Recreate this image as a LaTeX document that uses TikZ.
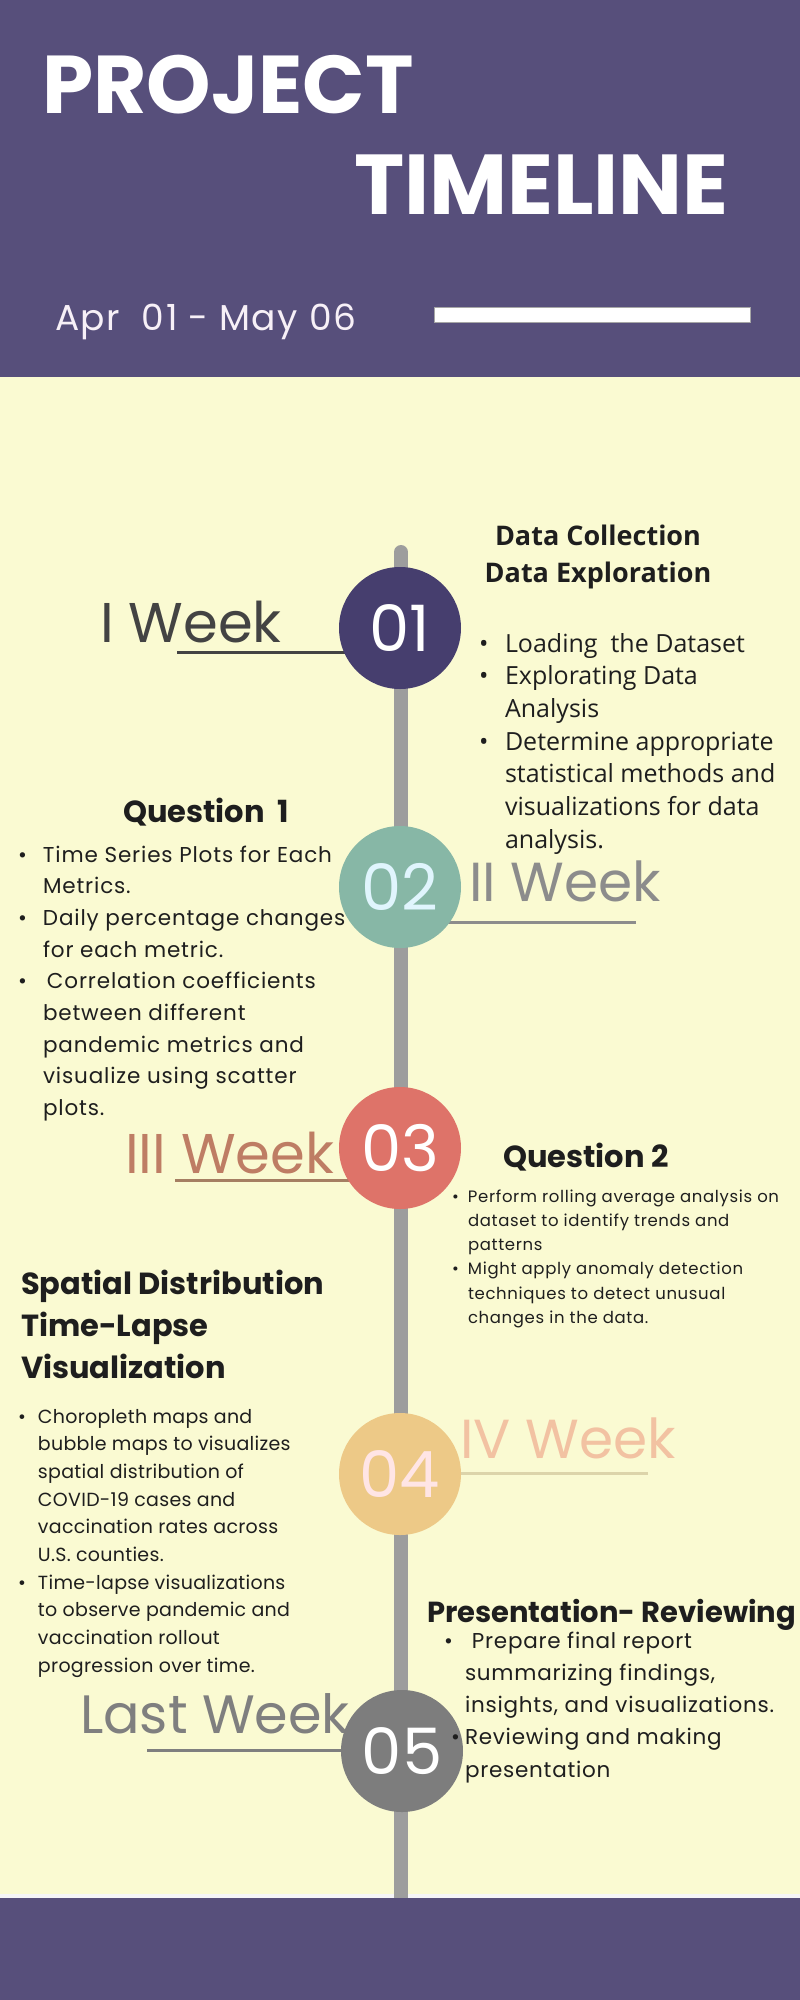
\documentclass[tikz,border=0pt]{standalone}
\usepackage{fontspec}
\setmainfont{Poppins}
\newfontfamily\opensans{Open Sans}

\definecolor{hdr}{HTML}{574F7B}
\definecolor{cream}{HTML}{FAFAD2}
\definecolor{spine}{HTML}{9D9D9D}
\definecolor{cOne}{HTML}{463E6E}
\definecolor{cTwo}{HTML}{87B7A6}
\definecolor{cThree}{HTML}{DE7369}
\definecolor{cFour}{HTML}{EDC987}
\definecolor{cFive}{HTML}{7D7D7D}
\definecolor{ink}{HTML}{1E1E1E}
\definecolor{wkOne}{HTML}{434343}
\definecolor{wkTwo}{HTML}{8C8C8C}
\definecolor{wkThree}{HTML}{BE7D64}
\definecolor{wkFour}{HTML}{F2C2A2}
\definecolor{wkFive}{HTML}{7F7F7F}
\definecolor{ulThree}{HTML}{A57E62}
\definecolor{ulFour}{HTML}{DCD4AA}

\newcommand\fsz[2]{\fontsize{#1}{#2}\selectfont}
\newcommand\bul[1]{\makebox[#1][l]{\textbullet}}
\newcommand\lead[1]{\rule{0pt}{#1}}
\newcommand\spaced[1]{\addfontfeature{LetterSpace=#1}}

\tikzset{
  blk/.style={anchor=north west, inner sep=0pt, outer sep=0pt, align=left, text=ink},
  head/.style={anchor=base west, inner sep=0pt, outer sep=0pt, text=ink, font=\bfseries\fsz{30.5}{42}},
  wk/.style={anchor=base west, inner sep=0pt, outer sep=0pt},
  circ/.style={circle, minimum size=122pt, inner sep=0pt, font=\fsz{64}{64}},
  ul/.style={line width=3pt},
}

\begin{document}
\begin{tikzpicture}[x=1pt, y=-1pt]
\useasboundingbox (0,0) rectangle (800,2000);

% background bands
\fill[hdr] (0,0) rectangle (800,377);
\fill[cream] (0,377) rectangle (800,1894);
\fill[white!94!hdr] (0,1894) rectangle (800,1898);

% title
\node[wk, text=white, font=\bfseries\fsz{82}{82}] (ttlA) at (42,113) {PROJECT};
\node[wk, text=white, font=\bfseries\fsz{85}{85}] (ttlB) at (354,214) {TIMELINE};
\node[wk, text=white!94!violet, font=\fsz{36}{36}\spaced{4}] (dates) at (55,330) {Apr\ \ 01 - May 06};
\fill[white, draw=gray!70, line width=0.8pt] (434,307) rectangle (750,322);

% spine
\coordinate (top) at (401,552);
\coordinate (bot) at (401,1897);
\draw[spine, line width=14pt, line cap=round] (top) -- (bot);

% week labels and their underlines
\node[wk, text=wkOne, font=\fsz{56}{56}] (lOne) at (100,642) {I Week};
\node[wk, text=wkTwo, font=\fsz{55}{55}] (lTwo) at (469,901) {II Week};
\node[wk, text=wkThree, font=\fsz{56}{56}] (lThree) at (125,1173) {III Week};
\node[wk, text=wkFour, font=\fsz{55}{55}] (lFour) at (460,1458) {IV Week};
\node[wk, text=wkFive, font=\fsz{54}{54}] (lFive) at (80,1733) {Last Week};

\coordinate (uOne) at (177,652);
\coordinate (uTwo) at (636,922);
\coordinate (uThree) at (175,1180);
\coordinate (uFour) at (648,1473);
\coordinate (uFive) at (147,1750);

% underlines run into the circles
\begin{scope}[ul]
\draw[wkOne] (uOne) -- (400,652);
\draw[wkTwo] (uTwo) -- (400,922);
\draw[ulThree] (uThree) -- (400,1180);
\draw[ulFour] (uFour) -- (400,1473);
\draw[wkFive] (uFive) -- (400,1750);
\end{scope}

% milestones
\node[circ, fill=cOne, text=white] (cOne) at (400,628) {01};
\node[circ, fill=cTwo, text=cyan!12!white] (cTwo) at (400,887) {02};
\node[circ, fill=cThree, text=white] (cThree) at (400,1148) {03};
\node[circ, fill=cFour, text=pink!40!white] (cFour) at (400,1474) {04};
\node[circ, fill=cFive, text=white] (cFive) at (402,1751) {05};

% week 1 notes
\node[anchor=north, inner sep=0pt, align=center, text=ink, font=\opensans\bfseries\fsz{27}{37}] (hOne) at (598,518)
  {\lead{27pt}Data Collection\\Data Exploration};
\node[blk, font=\opensans\fsz{25}{32.7}] (bOne) at (479,626)
  {\lead{26pt}\bul{26pt}Loading\ \ the Dataset\\
   \bul{26pt}Explorating Data\\
   \hspace*{26pt}Analysis\\
   \bul{26pt}Determine appropriate\\
   \hspace*{26pt}statistical methods and\\
   \hspace*{26pt}visualizations for data\\
   \hspace*{26pt}analysis.};

% week 2 notes
\node[head] (hTwo) at (123,822) {Question\ \ 1};
\node[blk, font=\fsz{21.5}{31.7}\spaced{4}] (bTwo) at (18,840)
  {\lead{22pt}\bul{25pt}Time Series Plots for Each\\
   \hspace*{25pt}Metrics.\\
   \bul{25pt}Daily percentage changes\\
   \hspace*{25pt}for each metric.\\
   \bul{25pt}\hspace{4pt}Correlation coefficients\\
   \hspace*{25pt}between different\\
   \hspace*{25pt}pandemic metrics and\\
   \hspace*{25pt}visualize using scatter\\
   \hspace*{25pt}plots.};

% week 3 notes
\node[head] (hThree) at (503,1167) {Question 2};
\node[blk, font=\fsz{16.5}{24.3}\spaced{4}] (bThree) at (452,1186)
  {\lead{16pt}\bul{16pt}Perform rolling average analysis on\\
   \hspace*{16pt}dataset to identify trends and\\
   \hspace*{16pt}patterns\\
   \bul{16pt}Might apply anomaly detection\\
   \hspace*{16pt}techniques to detect unusual\\
   \hspace*{16pt}changes in the data.};

% week 4 notes
\node[blk, font=\bfseries\fsz{30.5}{42}] (hFour) at (21,1263)
  {\lead{31pt}Spatial Distribution\\Time-Lapse\\Visualization};
\node[blk, font=\fsz{19}{27.7}\spaced{1.5}] (bFour) at (18,1403)
  {\lead{20pt}\bul{20pt}Choropleth maps and\\
   \hspace*{20pt}bubble maps to visualizes\\
   \hspace*{20pt}spatial distribution of\\
   \hspace*{20pt}COVID-19 cases and\\
   \hspace*{20pt}vaccination rates across\\
   \hspace*{20pt}U.S. counties.\\
   \bul{20pt}Time-lapse visualizations\\
   \hspace*{20pt}to observe pandemic and\\
   \hspace*{20pt}vaccination rollout\\
   \hspace*{20pt}progression over time.};

% last week notes
\node[head, font=\bfseries\fsz{29}{42}] (hFive) at (427,1622) {Presentation- Reviewing};
\node[blk, font=\fsz{21.5}{32.3}\spaced{3.5}] (bFive) at (444,1626)
  {\lead{22pt}\bul{21pt}\hspace{7pt}Prepare final report\\
   \hspace*{21pt}summarizing findings,\\
   \hspace*{21pt}insights, and visualizations.\\
   \hspace*{7pt}\bul{14pt}Reviewing and making\\
   \hspace*{21pt}presentation};

% footer band
\fill[hdr] (0,1898) rectangle (800,2000);
\end{tikzpicture}
\end{document}
